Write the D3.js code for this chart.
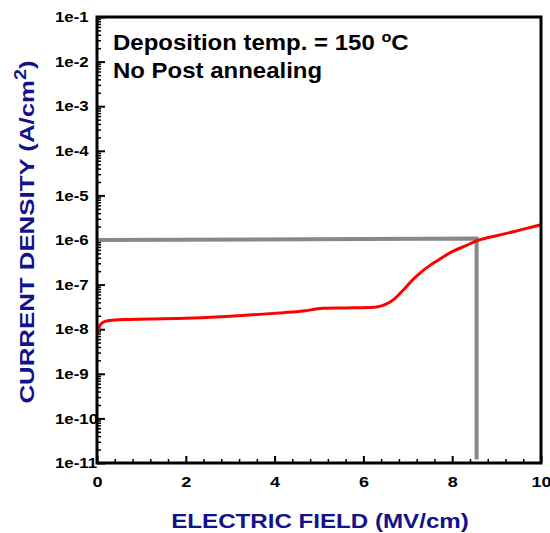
<!DOCTYPE html>
<html>
<head>
<meta charset="utf-8">
<script src="https://cdn.jsdelivr.net/npm/d3@7"></script>
<style>
body { margin:0; background:#fff; }
text { font-family: "Liberation Sans", Arial, sans-serif; font-weight:bold; }
</style>
</head>
<body>
<div id="figure"></div>
<script>
// I-V curve (field in MV/cm, current density in A/cm2)
var field = [0.02, 0.07, 0.18, 0.4, 0.7, 1.2, 2.0, 2.8, 3.5, 4.2, 4.7, 4.9, 5.1, 5.6, 6.1, 6.3, 6.5, 6.7, 6.9, 7.1, 7.3, 7.5, 7.7, 8.0, 8.3, 8.6, 9.0, 9.4, 9.7, 10.0];
var density = [8.1e-9, 1.25e-8, 1.5e-8, 1.6e-8, 1.65e-8, 1.7e-8, 1.75e-8, 1.9e-8, 2.1e-8, 2.35e-8, 2.6e-8, 2.8e-8, 2.95e-8, 3.0e-8, 3.05e-8, 3.15e-8, 3.6e-8, 4.8e-8, 7.6e-8, 1.25e-7, 1.9e-7, 2.7e-7, 3.6e-7, 5.5e-7, 7.4e-7, 1.0e-6, 1.25e-6, 1.55e-6, 1.85e-6, 2.2e-6];

// gray guide line
var guideX = [0, 8.55, 8.55];
var guideY = [1e-6, 1.08e-6, 1.2e-11];

var xTicks = [0, 2, 4, 6, 8, 10];
var yTicks = [1e-11, 1e-10, 1e-9, 1e-8, 1e-7, 1e-6, 1e-5, 1e-4, 1e-3, 1e-2, 1e-1];
var yLabels = ["1e-11","1e-10","1e-9","1e-8","1e-7","1e-6","1e-5","1e-4","1e-3","1e-2","1e-1"];

var W = 550, H = 533;
var pLeft = 97, pTop = 17, pRight = 541, pBottom = 463;
var navy = "#12128a";

var svg = d3.select("#figure").append("svg").attr("width", W).attr("height", H);

var x = d3.scaleLinear().domain([0, 10]).range([pLeft, pRight]);
var y = d3.scaleLog().domain([1e-11, 1e-1]).range([pBottom, pTop]);

// the original figure is stretched sideways, so widen the glyphs
function stretch(sel, k) {
	sel.each(function() {
		var len = this.getComputedTextLength();
		d3.select(this).attr("textLength", len * k).attr("lengthAdjust", "spacingAndGlyphs");
	});
}

// minor ticks
var xMinor = d3.range(0, 10.001, 0.4).filter(function(d) { return Math.abs(d/2 - Math.round(d/2)) > 0.01; });
var yMinor = [];
for (var e = -11; e < -1; e++)
	for (var m = 2; m <= 9; m++) yMinor.push(m * Math.pow(10, e));

svg.append("g")
	.attr("transform", "translate(0," + pBottom + ")")
	.call(d3.axisBottom(x).tickValues(xMinor).tickSize(-4).tickFormat(""))
	.call(function(g) { g.select(".domain").remove(); })
	.selectAll("line").attr("stroke-width", 1.5);

svg.append("g")
	.attr("transform", "translate(" + pLeft + ",0)")
	.call(d3.axisLeft(y).tickValues(yMinor).tickSize(-4).tickFormat(""))
	.call(function(g) { g.select(".domain").remove(); })
	.selectAll("line").attr("stroke-width", 1.5);

// major ticks
var xg = svg.append("g")
	.attr("transform", "translate(0," + pBottom + ")")
	.call(d3.axisBottom(x).tickValues(xTicks).tickSize(-7).tickPadding(13).tickFormat(d3.format("d")));
xg.select(".domain").remove();
xg.selectAll("line").attr("stroke-width", 2);
xg.selectAll("text").attr("font-size", 15).attr("fill", "#000").attr("font-weight", "bold")
	.call(stretch, 1.2);

var yg = svg.append("g")
	.attr("transform", "translate(" + pLeft + ",0)")
	.call(d3.axisLeft(y).tickValues(yTicks).tickSize(-8)
		.tickFormat(function(d) { return yLabels[yTicks.indexOf(d)]; }));
yg.select(".domain").remove();
yg.selectAll("line").attr("stroke-width", 2);
yg.selectAll("text")
	.attr("text-anchor", "start")
	.attr("x", -42)
	.attr("font-size", 14.5)
	.attr("fill", "#000")
	.attr("font-weight", "bold")
	.call(stretch, 1.16);

// guide line
var guide = guideX.map(function(d, i) { return [d, guideY[i]]; });
svg.append("path")
	.datum(guide)
	.attr("fill", "none")
	.attr("stroke", "#888")
	.attr("stroke-width", 4)
	.attr("d", d3.line().x(function(d) { return x(d[0]); }).y(function(d) { return y(d[1]); }));

// curve
var pts = field.map(function(d, i) { return [d, density[i]]; });
svg.append("path")
	.datum(pts)
	.attr("fill", "none")
	.attr("stroke", "#ff0000")
	.attr("stroke-width", 3)
	.attr("d", d3.line().curve(d3.curveCatmullRom.alpha(0.5))
		.x(function(d) { return x(d[0]); }).y(function(d) { return y(d[1]); }));

// frame
svg.append("rect")
	.attr("x", pLeft).attr("y", pTop)
	.attr("width", pRight - pLeft).attr("height", pBottom - pTop)
	.attr("fill", "none")
	.attr("stroke", "#000")
	.attr("stroke-width", 3);

// annotation
var note = svg.append("g").attr("transform", "translate(113,0)scale(1.09,1)");
var t1 = note.append("text").attr("x", 0).attr("y", 50).attr("font-size", 22).attr("fill", "#000");
t1.append("tspan").text("Deposition temp. = 150 ");
t1.append("tspan").text("o").attr("font-size", 15).attr("dy", -8);
t1.append("tspan").text("C").attr("dy", 8);
note.append("text").attr("x", 0).attr("y", 78).attr("font-size", 22).attr("fill", "#000")
	.text("No Post annealing");

// axis titles
svg.append("g")
	.attr("transform", "translate(" + 320 + ",528)scale(1.15,1)")
	.append("text")
	.attr("text-anchor", "middle")
	.attr("font-size", 21)
	.attr("fill", navy)
	.text("ELECTRIC FIELD (MV/cm)");

var yt = svg.append("g")
	.attr("transform", "translate(34,232)rotate(-90)scale(1.23,1)")
	.append("text")
	.attr("text-anchor", "middle")
	.attr("font-size", 21)
	.attr("fill", navy);
yt.append("tspan").text("CURRENT DENSITY (A/cm");
yt.append("tspan").text("2").attr("font-size", 16).attr("dy", -8);
yt.append("tspan").text(")").attr("dy", 8);
</script>
</body>
</html>
